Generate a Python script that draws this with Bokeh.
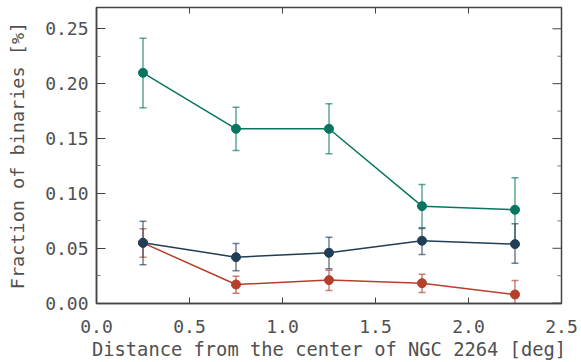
import math
from bokeh.plotting import figure
from bokeh.models import (ColumnDataSource, Whisker, TeeHead, Range1d,
                          FixedTicker, NumeralTickFormatter)
from bokeh.embed import file_html
from bokeh.resources import INLINE

# ---- data ----
distance = [0.25, 0.75, 1.25, 1.75, 2.25]

frac_green = [0.2099, 0.1589, 0.1589, 0.0884, 0.0851]
lo_green = [0.1780, 0.1391, 0.1361, 0.0687, 0.0560]
hi_green = [0.2414, 0.1786, 0.1817, 0.1081, 0.1142]

frac_navy = [0.0550, 0.0419, 0.0459, 0.0569, 0.0538]
lo_navy = [0.0350, 0.0295, 0.0313, 0.0444, 0.0364]
hi_navy = [0.0747, 0.0544, 0.0601, 0.0681, 0.0723]

frac_red = [0.0549, 0.0170, 0.0210, 0.0182, 0.0079]
lo_red = [0.0419, 0.0091, 0.0116, 0.0097, -0.0050]
hi_red = [0.0678, 0.0246, 0.0301, 0.0264, 0.0207]

x_ticks = [0.0, 0.5, 1.0, 1.5, 2.0, 2.5]
y_ticks = [0.00, 0.05, 0.10, 0.15, 0.20, 0.25]
y_minor = [0.025, 0.075, 0.125, 0.175, 0.225]

x_title = "Distance from the center of NGC 2264 [deg]"
y_title = "Fraction of binaries [%]"

X_MIN, X_MAX = 0.0, 2.5
Y_MIN, Y_MAX = -0.0003, 0.2694

GREEN = "#07765f"
NAVY = "#203f57"
RED = "#b63f2b"
TEXT = "#505050"
AXIS = "#444444"
FONT = "DejaVu Sans Mono"

p = figure(width=581, height=362, output_backend="svg", toolbar_location=None,
           x_range=Range1d(X_MIN, X_MAX), y_range=Range1d(Y_MIN, Y_MAX),
           min_border_left=96, min_border_right=20, min_border_top=7, min_border_bottom=59)
p.outline_line_color = AXIS
p.outline_line_width = 1.5
p.grid.visible = False
p.background_fill_color = "white"
p.border_fill_color = "white"

series = [
    (frac_green, lo_green, hi_green, GREEN),
    (frac_red, lo_red, hi_red, RED),
    (frac_navy, lo_navy, hi_navy, NAVY),
]
for frac, lo, hi, col in series:
    src = ColumnDataSource(dict(x=distance, y=frac, lo=lo, hi=hi))
    w = Whisker(base="x", upper="hi", lower="lo", source=src, dimension="height",
                line_color=col, line_alpha=0.65, line_width=1.5,
                upper_head=TeeHead(size=7, line_color=col, line_alpha=0.65, line_width=1.5),
                lower_head=TeeHead(size=7, line_color=col, line_alpha=0.65, line_width=1.5))
    p.add_layout(w)
    p.line("x", "y", source=src, line_color=col, line_width=1.5)
    p.scatter("x", "y", source=src, size=9, fill_color=col, line_color=col)

# mirrored ticks on the top and right edges (inward)
p.ray(x=x_ticks, y=[Y_MAX] * len(x_ticks), length=6, length_units="screen",
      angle=-math.pi / 2, line_color=AXIS, line_width=1)
p.ray(x=[X_MAX] * len(y_ticks), y=y_ticks, length=9, length_units="screen",
      angle=math.pi, line_color=AXIS, line_width=1)
p.ray(x=[X_MAX] * len(y_minor), y=y_minor, length=4, length_units="screen",
      angle=math.pi, line_color="#777777", line_width=1)

def style(ax):
    ax.axis_line_color = AXIS
    ax.axis_line_width = 1.5
    ax.major_tick_line_color = AXIS
    ax.minor_tick_line_color = "#777777"
    ax.major_tick_out = 0
    ax.minor_tick_out = 0
    ax.major_label_text_font = FONT
    ax.major_label_text_color = TEXT
    ax.major_label_text_font_size = "18px"
    ax.axis_label_text_font = FONT
    ax.axis_label_text_color = TEXT
    ax.axis_label_text_font_style = "normal"

xa = p.xaxis[0]
xa.ticker = FixedTicker(ticks=x_ticks, minor_ticks=[])
xa.formatter = NumeralTickFormatter(format="0.0")
style(xa)
xa.major_tick_in = 6
xa.major_label_standoff = 16
xa.axis_label = x_title
xa.axis_label_text_font_size = "18.75px"
xa.axis_label_standoff = 3

ya = p.yaxis[0]
ya.ticker = FixedTicker(ticks=y_ticks, minor_ticks=y_minor)
ya.formatter = NumeralTickFormatter(format="0.00")
style(ya)
ya.major_tick_in = 9
ya.minor_tick_in = 4
ya.major_label_standoff = 8
ya.axis_label = y_title
ya.axis_label_text_font_size = "18.5px"
ya.axis_label_standoff = 14

open("out.html", "w").write(file_html(p, INLINE))
